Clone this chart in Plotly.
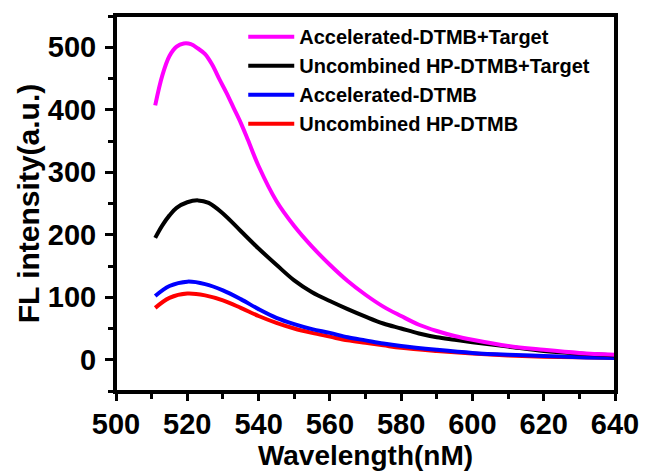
import plotly.graph_objects as go

wl_mag = [511, 513, 515, 517, 519, 521, 523, 525, 527, 529, 531, 533, 535, 537, 540, 545, 550, 555, 560, 565, 570, 575, 580, 585, 590, 595, 600, 610, 620, 630, 640]
acc_target = [407, 455, 486, 501, 506, 505, 498, 489, 472, 449, 427, 403, 379, 352, 310, 254, 214, 181, 152, 126, 104, 85, 70, 56, 46, 38, 32, 22, 16, 11, 8]

wl_blk = [511, 513, 515, 517, 520, 523, 526, 530, 535, 540, 545, 550, 555, 560, 565, 570, 575, 580, 585, 590, 595, 600, 610, 620, 630, 640]
unc_target = [195, 215, 231, 243, 252, 255, 251, 234, 206, 178, 152, 127, 108, 94, 81, 69, 58, 50, 42, 36, 32, 28, 21, 14, 10, 7]

wl_low = [511, 515, 520, 525, 530, 535, 540, 545, 550, 555, 560, 565, 570, 575, 580, 590, 600, 610, 620, 630, 640]
acc_dtmb = [102, 118, 125, 121, 111, 97, 81, 67, 57, 49, 43, 36, 31, 26, 22, 16, 11, 8, 6, 4, 3]
unc_dtmb = [83, 99, 106, 103, 95, 83, 70, 59, 50, 43, 37, 31, 27, 23, 19, 14, 10, 7, 5, 4, 3]

names = ["Accelerated-DTMB+Target", "Uncombined HP-DTMB+Target", "Accelerated-DTMB", "Uncombined HP-DTMB"]
colors = ["#FF00FF", "#000000", "#0000FF", "#FF0000"]

x_ticks = [500, 520, 540, 560, 580, 600, 620, 640]
y_ticks = [0, 100, 200, 300, 400, 500]

FONT = "Liberation Sans, Arial, sans-serif"

fig = go.Figure()
series = [(wl_mag, acc_target), (wl_blk, unc_target), (wl_low, acc_dtmb), (wl_low, unc_dtmb)]
# draw low series first so upper ones sit on top
for i in [3, 2, 1, 0]:
    xs, ys = series[i]
    fig.add_trace(go.Scatter(x=xs, y=ys, mode="lines", name=names[i],
                             line=dict(color=colors[i], width=4, shape="spline", smoothing=1.0)))

axis_common = dict(showline=True, linecolor="#000000", linewidth=3, mirror=True,
                   ticks="outside", tickwidth=3, tickcolor="#000000",
                   showgrid=False, zeroline=False,
                   tickfont=dict(family=FONT, size=29, color="black", weight="bold"))

fig.update_xaxes(range=[500, 640], tickvals=x_ticks, ticklen=7, ticklabelstandoff=-2,
                 minor=dict(dtick=10, ticks="outside", ticklen=5, tickwidth=3, tickcolor="black"),
                 title=dict(text="<b>Wavelength(nM)</b>", font=dict(family=FONT, size=28, color="black"), standoff=0),
                 **axis_common)
fig.update_yaxes(range=[-50, 550], tickvals=y_ticks, ticklen=8, ticklabelstandoff=3,
                 minor=dict(tickvals=[-50, 50, 150, 250, 350, 450, 550], ticks="outside", ticklen=5, tickwidth=3, tickcolor="black"),
                 title=dict(text="<b>FL intensity(a.u.)</b>", font=dict(family=FONT, size=30, color="black"), standoff=0),
                 **axis_common)

# plot frame
fig.add_shape(type="rect", xref="paper", yref="paper", x0=0, y0=0, x1=1, y1=1,
              line=dict(color="#000000", width=2), layer="above")

fig.update_layout(
    width=651, height=471,
    margin=dict(l=116, r=28, t=16, b=78),
    paper_bgcolor="white", plot_bgcolor="white",
    showlegend=True,
    legend=dict(x=0.255, y=0.997, xanchor="left", yanchor="top", traceorder="reversed",
                bgcolor="rgba(0,0,0,0)", font=dict(family=FONT, size=20, color="black", weight="bold"),
                itemwidth=46, tracegroupgap=0),
)

# remove the default 8px page margin so the 651x471 figure fills the window exactly
fig.write_html("out.html", config={"displayModeBar": False},
               post_script="document.body.style.margin='0';document.body.style.overflow='hidden';")
